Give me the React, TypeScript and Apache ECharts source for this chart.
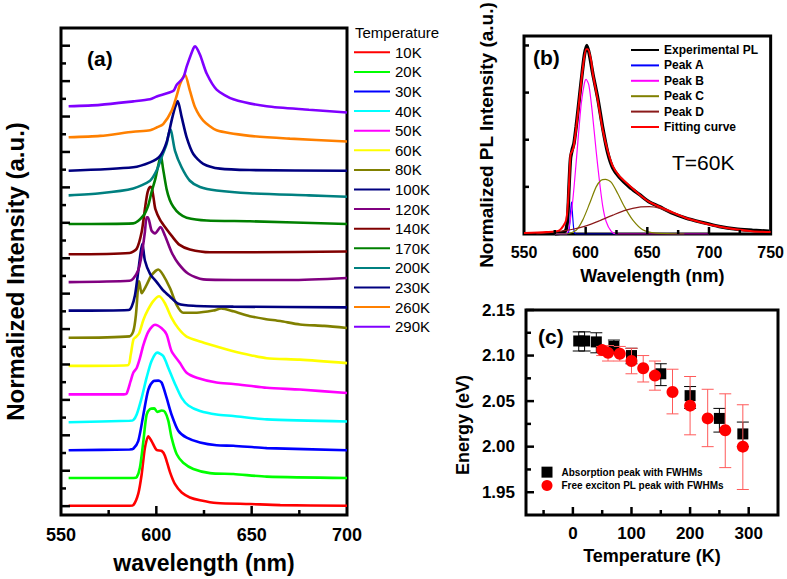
import React, { useEffect, useRef } from 'react';
import * as echarts from 'echarts';

const FONT = '"Liberation Sans", Arial, Helvetica, sans-serif';

// ---------- Panel (a): temperature-dependent PL spectra ----------
const temperatures = ['10K', '20K', '30K', '40K', '50K', '60K', '80K', '100K', '120K', '140K', '170K', '200K', '230K', '260K', '290K'];
const specColors = ['#ff0000', '#00ff00', '#0000ff', '#00ffff', '#ff00ff', '#ffff00', '#808000', '#000080', '#800080', '#800000', '#008000', '#008080', '#000080', '#ff8000', '#8000ff'];
// vertical stacking offsets (a.u.) of each spectrum baseline
const offsets = [0.02, 1.59, 3.16, 4.74, 6.31, 7.92, 9.51, 11.04, 12.65, 14.22, 15.93, 17.55, 18.94, 20.83, 22.58];
const PEAK_UNITS = 3.93; // normalized peak height in axis units

const spec10K = [[554, 0], [586, 0], [588, 0.01], [590.5, 0.17], [592.3, 0.45], [594, 0.83], [595.8, 1.0], [597.5, 0.93], [600.2, 0.8], [602.8, 0.79], [604.5, 0.72], [607.2, 0.48], [609.8, 0.31], [613.3, 0.19], [617.6, 0.12], [622.9, 0.08], [631.6, 0.04], [649, 0.025], [665, 0.01], [700, 0]];
const spec20K = [[554, 0], [588, 0], [589.7, 0.01], [591.4, 0.15], [593.2, 0.53], [594.9, 0.91], [596.7, 0.99], [598.9, 1.0], [600.5, 0.95], [602.8, 0.97], [604.5, 0.95], [606.3, 0.82], [608, 0.58], [610.7, 0.34], [614.1, 0.22], [619.4, 0.13], [628.1, 0.07], [640.4, 0.057], [657.9, 0.02], [700, 0]];
const spec30K = [[554, 0], [586, 0.01], [587.9, 0.02], [590.5, 0.13], [593.2, 0.51], [595.8, 0.87], [598.4, 0.99], [601, 1.0], [602.8, 0.97], [605.4, 0.75], [608, 0.51], [611.5, 0.28], [615.9, 0.18], [622.9, 0.11], [631.6, 0.07], [640.4, 0.063], [657.9, 0.03], [700, 0]];
const spec40K = [[554, 0], [586, 0.02], [587.9, 0.03], [589.7, 0.11], [592.3, 0.35], [594.9, 0.64], [597.5, 0.88], [600.5, 1.0], [603.6, 0.95], [606.3, 0.78], [609.8, 0.55], [613.3, 0.35], [616.8, 0.24], [622.9, 0.16], [631.6, 0.11], [640.4, 0.09], [657.9, 0.04], [700, 0.01]];
const spec50K = [[554, 0], [583, 0], [584.4, 0.01], [586.5, 0.19], [587.9, 0.31], [589.7, 0.38], [591.4, 0.52], [593.2, 0.71], [595.8, 0.9], [599.3, 1.0], [602.8, 0.95], [605.4, 0.86], [608, 0.62], [612.4, 0.45], [615.9, 0.31], [621.2, 0.24], [631.6, 0.17], [640.4, 0.15], [657.9, 0.095], [675.3, 0.07], [700, 0.02]];
const spec60K = [[554, 0], [585, 0.01], [586.5, 0.15], [588, 0.38], [589.5, 0.42], [591, 0.47], [593.2, 0.66], [595.5, 0.8], [598.4, 0.93], [601.5, 1.0], [604.5, 0.9], [608, 0.69], [611.5, 0.54], [615.9, 0.42], [622.9, 0.35], [631.6, 0.28], [640.4, 0.21], [650, 0.15], [657.9, 0.11], [675.3, 0.09], [700, 0.04]];
const spec80K = [[554, 0], [586, 0.02], [587.9, 0.09], [589.3, 0.33], [590.5, 0.76], [591, 0.81], [592.3, 0.64], [594.9, 0.76], [597.5, 0.9], [601, 0.98], [603.6, 0.9], [607.2, 0.71], [610.7, 0.47], [614.1, 0.36], [621.2, 0.36], [629.9, 0.39], [634, 0.42], [640.4, 0.38], [649, 0.31], [657, 0.27], [665, 0.24], [675.3, 0.19], [688, 0.17], [700, 0.14]];
const spec100K = [[554, 0], [585.5, 0.01], [587.1, 0.06], [588.8, 0.22], [590.5, 0.56], [591.8, 0.84], [592.7, 0.96], [594, 0.72], [596.7, 0.53], [600.2, 0.41], [603.6, 0.29], [607.2, 0.2], [611.5, 0.1], [619.4, 0.07], [640.4, 0.057], [700, 0.047]];
const spec120K = [[554, 0], [586, 0.02], [587.9, 0.05], [590.5, 0.17], [592.3, 0.39], [594, 0.72], [594.9, 0.93], [595.6, 0.93], [597.5, 0.74], [599.3, 0.7], [602.2, 0.79], [604.5, 0.67], [608, 0.43], [611.5, 0.27], [616.8, 0.12], [624.6, 0.04], [649, 0.03], [670, 0.03], [700, 0.06]];
const spec140K = [[554, 0], [586, 0.02], [589.7, 0.08], [592.3, 0.32], [594, 0.65], [595.4, 0.89], [596.8, 0.97], [597.6, 0.96], [598.6, 0.8], [599.5, 0.65], [601.9, 0.5], [605.4, 0.36], [608.5, 0.25], [612, 0.14], [617.6, 0.07], [628.1, 0.03], [649, 0.03], [700, 0.04]];
const spec170K = [[554, 0], [587.9, 0.01], [593.2, 0.12], [595.8, 0.27], [597.5, 0.46], [599.3, 0.63], [600.2, 0.74], [601.5, 0.9], [602.4, 0.98], [603.5, 0.8], [605.4, 0.5], [607, 0.35], [608.9, 0.25], [612, 0.15], [615.9, 0.09], [626.4, 0.05], [649, 0.04], [700, 0.0]];
const spec200K = [[554, 0], [570.5, 0.03], [587.9, 0.1], [596.7, 0.21], [600.2, 0.36], [602.8, 0.55], [605.4, 0.74], [607.2, 0.95], [608, 0.9], [609.8, 0.64], [613.3, 0.4], [617.6, 0.21], [622.9, 0.12], [631.6, 0.07], [649, 0.03], [680, 0.0], [700, -0.02]];
const spec230K = [[554, 0], [587.9, 0.05], [596.7, 0.12], [601.9, 0.21], [605.4, 0.41], [608, 0.72], [609.8, 0.91], [611.2, 1.0], [613.3, 0.77], [615.9, 0.48], [619.4, 0.24], [624.6, 0.1], [633.4, 0.03], [649, 0.01], [700, 0]];
const spec260K = [[554, 0], [570.5, 0.02], [587.9, 0.08], [596.7, 0.1], [600.2, 0.14], [603.6, 0.19], [608, 0.38], [610.7, 0.6], [612.4, 0.76], [615, 0.9], [617.6, 0.67], [620.3, 0.43], [624.6, 0.24], [631.6, 0.1], [649, 0.02], [670, -0.02], [700, -0.06]];
const spec290K = [[554, 0], [570.5, 0.02], [587.9, 0.07], [596.7, 0.1], [600.2, 0.14], [608.9, 0.22], [610.7, 0.31], [614.1, 0.41], [615.9, 0.57], [619.4, 0.83], [620.3, 0.86], [622.9, 0.74], [626.4, 0.47], [631.6, 0.24], [640.4, 0.1], [657.9, 0.0], [680, -0.05], [700, -0.09]];
const spectra = [spec10K, spec20K, spec30K, spec40K, spec50K, spec60K, spec80K, spec100K, spec120K, spec140K, spec170K, spec200K, spec230K, spec260K, spec290K];

// ---------- Panel (b): 60 K spectrum and fit ----------
const fitNames = ['Experimental PL', 'Peak A', 'Peak B', 'Peak C', 'Peak D', 'Fitting curve'];
const fitColors = ['#000000', '#0000ff', '#ff00ff', '#808000', '#8b1a1a', '#ff0000'];
const expPL = [[575, 0], [580, 0.005], [584, 0.02], [585.5, 0.1], [586.5, 0.25], [587.7, 0.4], [589.2, 0.45], [590.5, 0.48], [592.3, 0.57], [593.7, 0.65], [596.4, 0.81], [599, 0.95], [601, 1.0], [603.1, 0.95], [605.8, 0.85], [609.8, 0.72], [613.9, 0.56], [617.9, 0.43], [622, 0.35], [627.4, 0.3], [635.4, 0.25], [643.5, 0.21], [651.6, 0.17], [659.7, 0.145], [670.5, 0.11], [681.3, 0.084], [694.7, 0.061], [708.2, 0.04], [721.7, 0.026], [735.2, 0.02], [748.7, 0.015]];
const peakA = [[575, 0], [585, 0], [586.5, 0.02], [587.5, 0.09], [588.5, 0.17], [589.5, 0.09], [590.5, 0.02], [592, 0], [625, 0]];
const peakB = [[575, 0], [584.2, 0], [588.3, 0.11], [591, 0.28], [593.7, 0.49], [596.4, 0.69], [599, 0.8], [600.4, 0.82], [602.6, 0.79], [605.3, 0.65], [608.5, 0.44], [611.2, 0.28], [613.9, 0.145], [616.6, 0.066], [620.6, 0.015], [624.7, 0], [700, 0]];
const peakC = [[575, 0], [584, 0], [592.3, 0.02], [597.7, 0.075], [603.1, 0.16], [608.5, 0.25], [612.5, 0.285], [616, 0.29], [620.6, 0.275], [626, 0.215], [631.4, 0.145], [638.1, 0.075], [646.2, 0.023], [657, 0.005], [680, 0]];
const peakD = [[560, 0], [578.8, 0.014], [589.6, 0.025], [600.4, 0.043], [611.2, 0.07], [622, 0.1], [632.7, 0.127], [643.5, 0.143], [651.6, 0.145], [659.7, 0.137], [670.5, 0.11], [681.3, 0.084], [694.7, 0.058], [708.2, 0.037], [721.7, 0.023], [735.2, 0.013], [748.6, 0.01]];
const fitCurve = [[550, 0.005], [568, 0.01], [578.8, 0.02], [584.2, 0.075], [586.4, 0.25], [587.7, 0.42], [589.1, 0.44], [590.2, 0.46], [592.3, 0.56], [595, 0.72], [597.7, 0.88], [600.4, 0.98], [601.8, 0.98], [604.4, 0.92], [605.8, 0.85], [609.8, 0.71], [613.9, 0.55], [617.9, 0.44], [622, 0.36], [627, 0.31], [635, 0.26], [643.5, 0.21], [651.6, 0.17], [659.7, 0.145], [670.5, 0.115], [681.3, 0.085], [694.7, 0.06], [708, 0.04], [721.7, 0.025], [735, 0.015], [750, 0.01]];
const fitData = [expPL, peakA, peakB, peakC, peakD, fitCurve];
const fitWidths = [3.5, 1.2, 1.2, 1.2, 1.2, 2];

// ---------- Panel (c): peak energies vs temperature ----------
const absName = 'Absorption peak with FWHMs';
const plName = 'Free exciton PL peak with FWHMs';
const absT = [10, 20, 40, 70, 100, 150, 200, 250, 290];
const absE = [2.116, 2.116, 2.115, 2.110, 2.100, 2.080, 2.056, 2.031, 2.014];
const absHi = [2.126, 2.126, 2.125, 2.117, 2.108, 2.091, 2.066, 2.042, 2.027];
const absLo = [2.105, 2.105, 2.103, 2.102, 2.091, 2.067, 2.042, 2.016, 2.000];
const plT = [50, 60, 80, 100, 120, 140, 170, 200, 230, 260, 290];
const plE = [2.106, 2.103, 2.102, 2.094, 2.086, 2.078, 2.060, 2.045, 2.031, 2.018, 2.000];
const plHi = [2.110, 2.111, 2.110, 2.108, 2.100, 2.094, 2.085, 2.077, 2.063, 2.058, 2.046];
const plLo = [2.100, 2.094, 2.094, 2.080, 2.071, 2.062, 2.036, 2.013, 2.000, 1.977, 1.953];

// ---------- tick values ----------
const aLongTicks = [0, 2, 4, 6, 8, 10, 12, 14, 16, 18, 20, 22, 24, 26];
const aShortTicks = [1, 3, 5, 7, 9, 11, 13, 15, 17, 19, 21, 23, 25];
const aXMajor = [600, 650];
const aXMinor = [575, 625, 675];
const bXMajor = [600, 650, 700];
const bXMinor = [575, 625, 675, 725];
const bYTicks = [0.25, 0.5, 0.75, 1.0];
const cYMajor = [1.95, 2.0, 2.05, 2.1, 2.15];
const cYMinor = [1.975, 2.025, 2.075, 2.125];
const cXMajor = [0, 100, 200, 300];
const cXMinor = [-50, 50, 150, 250];

function errorBar(color: string) {
  return (params: any, api: any) => {
    const x = api.value(0);
    const lo = api.coord([x, api.value(1)]);
    const hi = api.coord([x, api.value(2)]);
    const hw = 6;
    const style = { stroke: color, lineWidth: 1 };
    return {
      type: 'group',
      children: [
        { type: 'line', shape: { x1: hi[0], y1: hi[1], x2: lo[0], y2: lo[1] }, style },
        { type: 'line', shape: { x1: hi[0] - hw, y1: hi[1], x2: hi[0] + hw, y2: hi[1] }, style },
        { type: 'line', shape: { x1: lo[0] - hw, y1: lo[1], x2: lo[0] + hw, y2: lo[1] }, style },
      ],
    };
  };
}

// inward tick marks placed through the axes' own scales (anchor = axis minimum on the other axis)
function tickSeries(xi: number, yi: number, dir: string, values: number[], anchor: number, len: number) {
  return {
    type: 'custom', xAxisIndex: xi, yAxisIndex: yi, clip: false, silent: true, z: 10,
    encode: { x: 0, y: 1 },
    data: values.map((v) => (dir === 'y' ? [anchor, v] : [v, anchor])),
    renderItem: (params: any, api: any) => {
      const p = api.coord([api.value(0), api.value(1)]);
      const style = { stroke: '#000000', lineWidth: 2.5 };
      if (dir === 'y') {
        return { type: 'line', shape: { x1: p[0], y1: p[1], x2: p[0] + len, y2: p[1] }, style };
      }
      return { type: 'line', shape: { x1: p[0], y1: p[1], x2: p[0], y2: p[1] - len }, style };
    },
  };
}

export default function App() {
  const ref = useRef<HTMLDivElement>(null);
  useEffect(() => {
    if (!ref.current) return;
    const chart = echarts.init(ref.current, null, { renderer: 'svg' });
    const black = '#000';
    const boldLabel = { color: black, fontFamily: FONT, fontWeight: 'bold' as const };
    const noTick = { show: false };

    const seriesA = spectra.map((s, i) => ({
      name: temperatures[i],
      type: 'line',
      xAxisIndex: 0,
      yAxisIndex: 0,
      data: s.map(([x, v]) => [x, offsets[i] + v * PEAK_UNITS]),
      showSymbol: false,
      symbol: 'none',
      smooth: 0.25,
      lineStyle: { color: specColors[i], width: 2.6 },
      itemStyle: { color: specColors[i] },
      z: 3,
    }));

    const seriesB = fitData.map((d, i) => ({
      name: fitNames[i],
      type: 'line',
      xAxisIndex: 1,
      yAxisIndex: 1,
      data: d,
      showSymbol: false,
      symbol: 'none',
      smooth: 0.25,
      lineStyle: { color: fitColors[i], width: fitWidths[i] },
      itemStyle: { color: fitColors[i] },
      z: 3 + i,
    }));

    const seriesC = [
      {
        name: 'absErr', type: 'custom', xAxisIndex: 2, yAxisIndex: 2, clip: false,
        renderItem: errorBar('#000000'),
        encode: { x: 0, y: [1, 2] },
        data: absT.map((t, i) => [t, absLo[i], absHi[i]]),
        z: 3,
      },
      {
        name: absName, type: 'scatter', xAxisIndex: 2, yAxisIndex: 2,
        symbol: 'rect', symbolSize: 11,
        itemStyle: { color: '#000000', opacity: 1 },
        data: absT.map((t, i) => [t, absE[i]]),
        z: 4,
      },
      {
        name: 'plErr', type: 'custom', xAxisIndex: 2, yAxisIndex: 2, clip: false,
        renderItem: errorBar('#ff5a5a'),
        encode: { x: 0, y: [1, 2] },
        data: plT.map((t, i) => [t, plLo[i], plHi[i]]),
        z: 5,
      },
      {
        name: plName, type: 'scatter', xAxisIndex: 2, yAxisIndex: 2,
        symbol: 'circle', symbolSize: 12,
        itemStyle: { color: '#ff0000', opacity: 1 },
        data: plT.map((t, i) => [t, plE[i]]),
        z: 6,
      },
    ];

    const ticks = [
      tickSeries(0, 0, 'y', aLongTicks, 550, 9),
      tickSeries(0, 0, 'y', aShortTicks, 550, 5),
      tickSeries(0, 0, 'x', aXMajor, -0.5, 9),
      tickSeries(0, 0, 'x', aXMinor, -0.5, 5),
      tickSeries(1, 1, 'y', bYTicks, 550, 5),
      tickSeries(1, 1, 'x', bXMajor, 0, 7),
      tickSeries(1, 1, 'x', bXMinor, 0, 4),
      tickSeries(2, 2, 'y', cYMajor, -80, 8),
      tickSeries(2, 2, 'y', cYMinor, -80, 5),
      tickSeries(2, 2, 'x', cXMajor, 1.925, 8),
      tickSeries(2, 2, 'x', cXMinor, 1.925, 5),
    ];

    const hidden = { show: false };
    const noLine = { show: false, onZero: false };

    const option: any = {
      animation: false,
      textStyle: { fontFamily: FONT },
      grid: [
        { left: 61, top: 28, width: 286, height: 490, show: true, borderColor: black, borderWidth: 3 },
        { left: 524, top: 33, width: 248, height: 201, show: true, borderColor: black, borderWidth: 3 },
        { left: 526, top: 310, width: 252, height: 205, show: true, borderColor: black, borderWidth: 3 },
      ],
      xAxis: [
        {
          gridIndex: 0, type: 'value', min: 550, max: 700, interval: 50,
          axisLine: noLine, splitLine: hidden, axisTick: noTick,
          axisLabel: { ...boldLabel, fontSize: 18, margin: 11 },
          name: 'wavelength (nm)', nameLocation: 'middle', nameGap: 36,
          nameTextStyle: { ...boldLabel, fontSize: 23 },
        },
        {
          gridIndex: 1, type: 'value', min: 550, max: 750, interval: 50,
          axisLine: noLine, splitLine: hidden, axisTick: noTick,
          axisLabel: { ...boldLabel, fontSize: 16, margin: 10 },
          name: 'Wavelength (nm)', nameLocation: 'middle', nameGap: 33,
          nameTextStyle: { ...boldLabel, fontSize: 18, padding: [0, 0, 0, 10] },
        },
        {
          gridIndex: 2, type: 'value', min: -80, max: 350,
          axisLine: noLine, splitLine: hidden, axisTick: noTick,
          axisLabel: { ...boldLabel, fontSize: 17, margin: 10, customValues: cXMajor },
          name: 'Temperature (K)', nameLocation: 'middle', nameGap: 32,
          nameTextStyle: { ...boldLabel, fontSize: 18 },
        },
      ],
      yAxis: [
        {
          gridIndex: 0, type: 'value', min: -0.5, max: 27,
          axisLine: noLine, splitLine: hidden, axisLabel: hidden, axisTick: noTick,
          name: 'Normalized Intensity (a.u.)', nameLocation: 'middle', nameGap: 34,
          nameTextStyle: { ...boldLabel, fontSize: 24 },
        },
        {
          gridIndex: 1, type: 'value', min: 0, max: 1.05,
          axisLine: noLine, splitLine: hidden, axisLabel: hidden, axisTick: noTick,
          name: 'Normalized PL Intensity (a.u.)', nameLocation: 'middle', nameGap: 28,
          nameTextStyle: { ...boldLabel, fontSize: 19 },
        },
        {
          gridIndex: 2, type: 'value', min: 1.925, max: 2.15,
          axisLine: noLine, splitLine: hidden, axisTick: noTick,
          axisLabel: { ...boldLabel, fontSize: 17, margin: 11, customValues: cYMajor, formatter: (v: number) => v.toFixed(2) },
          name: 'Energy (eV)', nameLocation: 'middle', nameGap: 54,
          nameTextStyle: { ...boldLabel, fontSize: 18, padding: [0, 25, 0, 0] },
        },
      ],
      legend: [
        {
          data: temperatures, orient: 'vertical', left: 353, top: 42.5, padding: 0,
          itemWidth: 36, itemHeight: 19.6, itemGap: 0, selectedMode: false,
          itemStyle: { opacity: 0 },
          textStyle: { color: black, fontFamily: FONT, fontSize: 15, lineHeight: 19.6 },
        },
        {
          data: fitNames, orient: 'vertical', left: 630, top: 42.3, padding: 0,
          itemWidth: 28, itemHeight: 15.4, itemGap: 0, selectedMode: false,
          itemStyle: { opacity: 0 },
          textStyle: { ...boldLabel, fontSize: 12, lineHeight: 15.4 },
        },
        {
          data: [absName, plName], orient: 'vertical', left: 541.5, top: 465.5, padding: 0,
          itemWidth: 11, itemHeight: 11, itemGap: 0, selectedMode: false,
          textStyle: { ...boldLabel, fontSize: 10, lineHeight: 13.3, padding: [0, 0, 0, 4] },
        },
      ],
      graphic: [
        { type: 'text', left: 355, top: 25, style: { text: 'Temperature', fontSize: 15, fontFamily: FONT, fill: black } },
        { type: 'text', left: 87, top: 48, style: { text: '(a)', fontSize: 21, fontWeight: 'bold', fontFamily: FONT, fill: black } },
        { type: 'text', left: 533, top: 47, style: { text: '(b)', fontSize: 21, fontWeight: 'bold', fontFamily: FONT, fill: black } },
        { type: 'text', left: 538, top: 326, style: { text: '(c)', fontSize: 21, fontWeight: 'bold', fontFamily: FONT, fill: black } },
        { type: 'text', left: 672, top: 152, style: { text: 'T=60K', fontSize: 21, fontFamily: FONT, fill: black } },
      ],
      series: [...seriesA, ...seriesB, ...seriesC, ...ticks],
    };
    chart.setOption(option);
    return () => chart.dispose();
  }, []);
  return <div ref={ref} style={{ position: 'fixed', left: 0, top: 0, width: 787, height: 579, background: '#fff' }} />;
}
